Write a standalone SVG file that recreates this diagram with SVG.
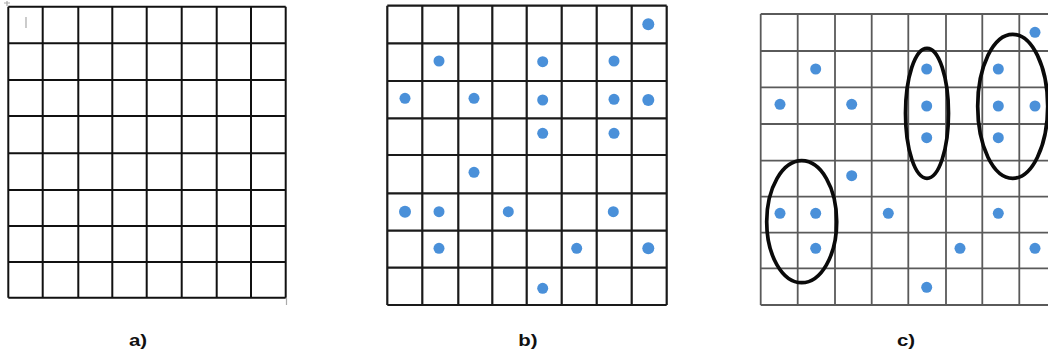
<svg xmlns="http://www.w3.org/2000/svg" width="1048" height="360" viewBox="0 0 1048 360">
<style>
.ga{stroke:#111;stroke-width:2;fill:none}
.gb{stroke:#1a1a1a;stroke-width:2.2;fill:none}
.gc{stroke:#5a5a5a;stroke-width:1.8;fill:none}
.dot{fill:#4a90d9}
.ring{fill:none;stroke:#0a0a0a;stroke-width:3.7}
.lbl{font-family:"Liberation Sans",Arial,sans-serif;font-weight:bold;font-size:17px;fill:#111;text-anchor:middle}
.faint{stroke:#aaa;stroke-width:1.2;fill:none}
</style>
<rect width="1048" height="360" fill="#fff"/>
<g id="panel-a">
<path class="ga" d="M8.3 6.7V297.7M42.7 6.7V297.7M78.3 6.7V297.7M112.3 6.7V297.7M146.7 6.7V297.7M181.7 6.7V297.7M216.7 6.7V297.7M251 6.7V297.7M285.7 6.7V297.7"/>
<path class="ga" d="M8.3 6.7H285.7M8.3 43.3H285.7M8.3 80H285.7M8.3 116H285.7M8.3 153.3H285.7M8.3 190H285.7M8.3 226H285.7M8.3 262H285.7M8.3 297.7H285.7"/>
<path class="faint" d="M26 17V28M7 1V6M4 3H10M286.5 298V305"/>
</g>
<g id="panel-b">
<path class="gb" d="M387.3 5.7V305M422.3 5.7V305M458.3 5.7V305M492.3 5.7V305M526.7 5.7V305M561.7 5.7V305M596.7 5.7V305M631.7 5.7V305M666.7 5.7V305"/>
<path class="gb" d="M387.3 5.7H666.7M387.3 43.3H666.7M387.3 81H666.7M387.3 118.3H666.7M387.3 155H666.7M387.3 193.3H666.7M387.3 230.7H666.7M387.3 267.7H666.7M387.3 305H666.7"/>
<g class="dot">
<circle cx="648.3" cy="24.3" r="6"/>
<circle cx="439" cy="61" r="5.5"/><circle cx="542.7" cy="61.7" r="5.5"/><circle cx="614" cy="61" r="5.5"/>
<circle cx="405" cy="98.3" r="5.5"/><circle cx="474" cy="98.3" r="5.5"/><circle cx="542.7" cy="100" r="5.5"/><circle cx="614" cy="99.3" r="5.5"/><circle cx="648.3" cy="100" r="6"/>
<circle cx="542.7" cy="133.3" r="5.5"/><circle cx="614" cy="133.3" r="5.5"/>
<circle cx="474" cy="172.3" r="5.5"/>
<circle cx="405" cy="211.7" r="6"/><circle cx="439" cy="211.7" r="5.5"/><circle cx="508.3" cy="211.7" r="5.5"/><circle cx="613.3" cy="211.7" r="5.5"/>
<circle cx="439" cy="248.3" r="5.5"/><circle cx="576.7" cy="248.3" r="5.5"/><circle cx="648.3" cy="248.3" r="6"/>
<circle cx="542.7" cy="288.3" r="5.5"/>
</g>
</g>
<g id="panel-c">
<path class="gc" d="M760.7 14V305M797.7 14V305M835 14V305M871.7 14V305M908.3 14V305M946 14V305M982.3 14V305M1019.3 14V305"/>
<path class="gc" d="M760.7 14H1048M760.7 51H1048M760.7 87.3H1048M760.7 124H1048M760.7 160.7H1048M760.7 196.7H1048M760.7 232.7H1048M760.7 268.3H1048M760.7 305H1048"/>
<g class="dot">
<circle cx="1035" cy="32.3" r="5.5"/>
<circle cx="815.7" cy="69" r="5.5"/><circle cx="926.7" cy="69" r="5.5"/><circle cx="998.3" cy="69" r="5.5"/>
<circle cx="780" cy="104.3" r="5.5"/><circle cx="851.7" cy="104.3" r="5.5"/><circle cx="926.7" cy="106" r="5.5"/><circle cx="998.3" cy="106" r="5.5"/><circle cx="1035" cy="106" r="5.5"/>
<circle cx="926.7" cy="137.7" r="5.5"/><circle cx="998.3" cy="137.7" r="5.5"/>
<circle cx="851.7" cy="175.7" r="5.5"/>
<circle cx="780" cy="213.3" r="5.5"/><circle cx="815.7" cy="213.3" r="5.5"/><circle cx="888.3" cy="213.3" r="5.5"/><circle cx="998.3" cy="213.3" r="5.5"/>
<circle cx="815.7" cy="248.3" r="5.5"/><circle cx="960" cy="248.3" r="5.5"/><circle cx="1035" cy="248.3" r="5.5"/>
<circle cx="926.7" cy="287.3" r="5.5"/>
</g>
<ellipse class="ring" cx="801.7" cy="221.7" rx="35" ry="61"/>
<ellipse class="ring" cx="927" cy="113.3" rx="21.5" ry="65"/>
<ellipse class="ring" cx="1012.7" cy="106.3" rx="35" ry="72"/>
</g>
<g id="labels">
<text class="lbl" transform="translate(138 346) scale(1.2 1)">a)</text>
<text class="lbl" transform="translate(528 346) scale(1.2 1)">b)</text>
<text class="lbl" transform="translate(906 346) scale(1.2 1)">c)</text>
</g>
</svg>
